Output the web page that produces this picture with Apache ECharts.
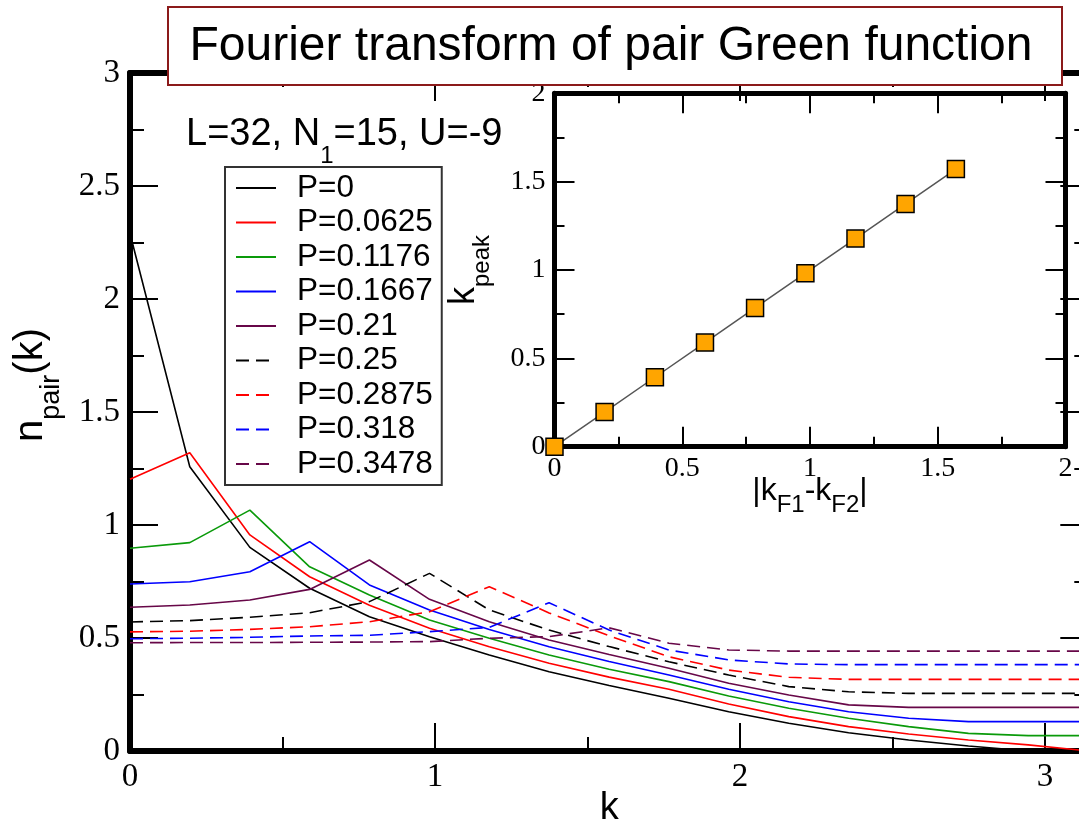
<!DOCTYPE html>
<html><head><meta charset="utf-8">
<script src="https://cdn.jsdelivr.net/npm/echarts@6/dist/echarts.min.js"></script>
<style>html,body{margin:0;padding:0;background:#fff}#c{width:1079px;height:824px}</style>
</head><body><div id="c"></div>
<script>
// ---- data ----
const kValues = [0, 0.196, 0.393, 0.589, 0.785, 0.982, 1.178, 1.374, 1.571, 1.767, 1.963, 2.160, 2.356, 2.553, 2.749, 2.945, 3.142];
const seriesNames = ['P=0','P=0.0625','P=0.1176','P=0.1667','P=0.21','P=0.25','P=0.2875','P=0.318','P=0.3478'];
const nP0     = [2.29, 1.258, 0.901, 0.720, 0.594, 0.506, 0.425, 0.351, 0.290, 0.233, 0.174, 0.123, 0.081, 0.049, 0.022, 0.0, 0.0];
const nP0625  = [1.202, 1.320, 0.956, 0.771, 0.645, 0.543, 0.461, 0.388, 0.327, 0.273, 0.208, 0.152, 0.108, 0.075, 0.049, 0.027, 0.0];
const nP1176  = [0.897, 0.922, 1.066, 0.815, 0.690, 0.580, 0.499, 0.425, 0.362, 0.307, 0.243, 0.189, 0.145, 0.108, 0.078, 0.068, 0.068];
const nP1667  = [0.739, 0.749, 0.793, 0.926, 0.735, 0.624, 0.538, 0.461, 0.396, 0.336, 0.273, 0.218, 0.174, 0.145, 0.130, 0.130, 0.130];
const nP21    = [0.636, 0.646, 0.668, 0.715, 0.845, 0.671, 0.572, 0.491, 0.427, 0.366, 0.300, 0.248, 0.204, 0.193, 0.193, 0.193, 0.193];
const nP25    = [0.571, 0.577, 0.592, 0.612, 0.661, 0.786, 0.624, 0.535, 0.462, 0.395, 0.336, 0.285, 0.262, 0.255, 0.255, 0.255, 0.255];
const nP2875  = [0.527, 0.530, 0.538, 0.550, 0.572, 0.616, 0.727, 0.611, 0.510, 0.417, 0.358, 0.326, 0.317, 0.317, 0.317, 0.317, 0.317];
const nP318   = [0.497, 0.499, 0.503, 0.509, 0.512, 0.528, 0.547, 0.656, 0.535, 0.447, 0.403, 0.385, 0.382, 0.382, 0.382, 0.382, 0.382];
const nP3478  = [0.479, 0.480, 0.480, 0.481, 0.482, 0.484, 0.499, 0.506, 0.545, 0.477, 0.447, 0.442, 0.442, 0.442, 0.442, 0.442, 0.442];
const seriesValues = [nP0, nP0625, nP1176, nP1667, nP21, nP25, nP2875, nP318, nP3478];
const insetKDiff = [0, 0.196, 0.393, 0.589, 0.785, 0.982, 1.178, 1.374, 1.571];
const insetKPeak = [0, 0.196, 0.393, 0.589, 0.785, 0.982, 1.178, 1.374, 1.571];

// ---- styles ----
const seriesColors = ['#000000','#ff0000','#0a9a0a','#0000ff','#670748','#000000','#ff0000','#0000ff','#670748'];
const seriesDashed = [false,false,false,false,false,true,true,true,true];
const SERIF = 'Liberation Serif';
const SANS = 'Liberation Sans';

const chart = echarts.init(document.getElementById('c'), null, {renderer:'canvas', width:1079, height:824});

function valAxis(o) {
  return Object.assign({
    type:'value', nameMoveOverlap:false,
    axisLine:{show:true, onZero:false, lineStyle:{color:'#000', width:6}},
    axisTick:{show:true, inside:true, length:28, lineStyle:{color:'#000', width:2}},
    minorTick:{show:false},
    splitLine:{show:false}, minorSplitLine:{show:false},
    axisLabel:{show:false}
  }, o);
}
const mainLabel = {show:true, margin:10, color:'#000', fontFamily:SERIF, fontSize:33};
const insetLabel = {show:true, margin:8, color:'#000', fontFamily:SERIF, fontSize:28};
const insetTick = {show:true, inside:true, length:20, lineStyle:{color:'#000', width:2}};
const insetMinor = {show:true, splitNumber:2, length:10, lineStyle:{color:'#000', width:2}};
const insetLine = {show:true, onZero:false, lineStyle:{color:'#000', width:5}};

const option = {
  animation:false,
  backgroundColor:'#fff',
  textStyle:{fontFamily:SANS},
  grid:[
    {left:130, top:73, width:958.3, height:678, outerBoundsMode:'none', containLabel:false},
    {left:554.5, top:93.3, width:511, height:353.4, outerBoundsMode:'none', containLabel:false, show:true, backgroundColor:'#fff', borderWidth:0, borderColor:'transparent'},
    {left:130, top:73, width:958.3, height:678, outerBoundsMode:'none', containLabel:false}
  ],
  xAxis:[
    valAxis({gridIndex:0, position:'bottom', min:0, max:3.142, interval:1,
      axisLabel:Object.assign({}, mainLabel, {formatter:v => (Math.abs(v - Math.round(v)) < 1e-6 ? String(Math.round(v)) : '')}),
      name:'k', nameLocation:'middle', nameGap:38,
      nameTextStyle:{color:'#000', fontFamily:SANS, fontSize:38, lineHeight:40}}),
    valAxis({gridIndex:0, position:'top', min:0, max:3.142, interval:1}),
    valAxis({gridIndex:1, position:'bottom', min:0, max:2, interval:0.5, axisLine:insetLine, axisTick:insetTick, minorTick:insetMinor,
      axisLabel:insetLabel,
      name:'{a||k}{s|F1}{a|-k}{s|F2}{a||}', nameLocation:'middle', nameGap:28,
      nameTextStyle:{color:'#000', fontFamily:SANS, rich:{
        a:{fontSize:32, fontFamily:SANS, lineHeight:36, verticalAlign:'top', color:'#000'},
        s:{fontSize:24, fontFamily:SANS, lineHeight:61, verticalAlign:'middle', color:'#000'}}}}),
    valAxis({gridIndex:1, position:'top', min:0, max:2, interval:0.5, axisLine:insetLine, axisTick:insetTick, minorTick:insetMinor}),
    valAxis({gridIndex:2, position:'bottom', min:0, max:3.142, interval:0.5, axisLine:{show:false}, axisTick:{show:true, inside:true, length:14, lineStyle:{color:'#000', width:2}}}),
    valAxis({gridIndex:2, position:'top', min:0, max:3.142, interval:0.5, axisLine:{show:false}, axisTick:{show:true, inside:true, length:14, lineStyle:{color:'#000', width:2}}})
  ],
  yAxis:[
    valAxis({gridIndex:0, position:'left', min:0, max:3, interval:0.5,
      minorTick:{show:true, splitNumber:2, length:14, lineStyle:{color:'#000', width:2}},
      axisLabel:mainLabel,
      name:'{a|n}{s|pair}{a|(k)}', nameLocation:'middle', nameGap:37,
      nameTextStyle:{color:'#000', fontFamily:SANS, padding:[0,0,0,54], rich:{
        a:{fontSize:40, fontFamily:SANS, lineHeight:44, verticalAlign:'top', color:'#000'},
        s:{fontSize:27, fontFamily:SANS, lineHeight:82, verticalAlign:'middle', color:'#000'}}}}),
    valAxis({gridIndex:0, position:'right', min:0, max:3, interval:0.5,
      minorTick:{show:true, splitNumber:2, length:14, lineStyle:{color:'#000', width:2}}}),
    valAxis({gridIndex:1, position:'left', min:0, max:2, interval:0.5, axisLine:insetLine, axisTick:insetTick, minorTick:insetMinor,
      axisLabel:Object.assign({}, insetLabel, {margin:9}),
      name:'{a|k}{s|peak}', nameLocation:'middle', nameGap:37,
      nameTextStyle:{color:'#000', fontFamily:SANS, rich:{
        a:{fontSize:36, fontFamily:SANS, lineHeight:40, verticalAlign:'top', color:'#000'},
        s:{fontSize:24, fontFamily:SANS, lineHeight:71, verticalAlign:'middle', color:'#000'}}}}),
    valAxis({gridIndex:1, position:'right', min:0, max:2, interval:0.5, axisLine:insetLine, axisTick:insetTick, minorTick:insetMinor}),
    {type:'value', gridIndex:2, show:false, min:0, max:3}
  ],
  legend:{
    data:seriesNames, orient:'vertical', left:225, top:167,
    padding:[5,9,5,10], itemGap:2.5, itemWidth:40, itemHeight:14,
    backgroundColor:'#fff', borderColor:'#333', borderWidth:2, borderRadius:0,
    selectedMode:false,
    itemStyle:{opacity:0, borderWidth:0},
    textStyle:{fontSize:31.5, fontFamily:SANS, color:'#000', lineHeight:31, padding:[0,0,0,16]}
  },
  series: seriesValues.map((vals, i) => ({
    name:seriesNames[i], type:'line', xAxisIndex:0, yAxisIndex:0,
    data:kValues.map((k, j) => [k, vals[j]]),
    symbol:'none', showSymbol:false, clip:true, z:3,
    lineStyle:{color:seriesColors[i], width:1.6, type:seriesDashed[i] ? [13,7] : 'solid'},
    itemStyle:{color:seriesColors[i]},
    emphasis:{disabled:true}
  })).concat([{
    type:'line', xAxisIndex:2, yAxisIndex:2,
    data:insetKDiff.map((x, i) => [x, insetKPeak[i]]),
    symbol:'rect', symbolSize:17, showSymbol:true, clip:false, z:10,
    itemStyle:{color:'#FFA500', borderColor:'#000', borderWidth:1.5},
    lineStyle:{color:'#555', width:1.5},
    emphasis:{disabled:true}
  }]),
  graphic:[
    {type:'rect', z:100, shape:{x:168, y:7, width:894, height:78}, style:{fill:'#fff', stroke:'#8b1a1a', lineWidth:2}},
    {type:'text', z:101, x:611, y:47, style:{text:'Fourier transform of pair Green function', fontSize:48, fontFamily:SANS, fill:'#000', align:'center', verticalAlign:'middle'}},
    {type:'text', z:101, x:186, y:116, style:{text:'{a|L=32, N}{s|1}{a|=15, U=-9}', fill:'#000', align:'left', verticalAlign:'top',
      rich:{a:{fontSize:38, fontFamily:SANS, lineHeight:40, verticalAlign:'top', fill:'#000'},
            s:{fontSize:24, fontFamily:SANS, lineHeight:80, verticalAlign:'middle', fill:'#000'}}}}
  ]
};
chart.setOption(option);
</script>
</body></html>
